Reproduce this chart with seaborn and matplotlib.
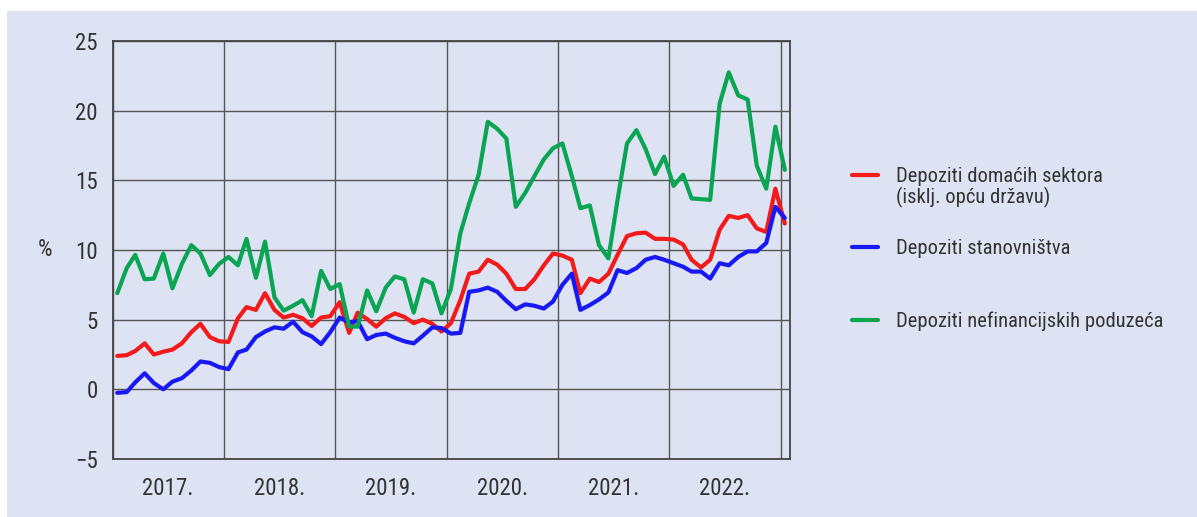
import numpy as np
import pandas as pd
import matplotlib
matplotlib.use('Agg')
import matplotlib.pyplot as plt
import matplotlib.dates as mdates
from matplotlib import font_manager as fm
from matplotlib.patches import Rectangle
import seaborn as sns

# Monthly y-o-y growth of deposits, Jan 2017 - Jan 2023 (%)
months = pd.date_range('2017-01-01', periods=73, freq='MS') + pd.Timedelta(days=14)

domaci_sektori = [
    2.4, 2.45, 2.75, 3.3, 2.5, 2.7, 2.85, 3.3, 4.1, 4.7, 3.75, 3.45,
    3.4, 5.1, 5.9, 5.7, 6.9, 5.7, 5.15, 5.35, 5.1, 4.55, 5.15, 5.25,
    6.25, 4.05, 5.5, 5.05, 4.5, 5.1, 5.45, 5.2, 4.75, 5.0, 4.7, 4.15,
    4.75, 6.4, 8.3, 8.45, 9.3, 8.95, 8.3, 7.2, 7.2, 7.9, 8.9, 9.75,
    9.6, 9.3, 6.9, 7.95, 7.7, 8.3, 9.65, 11.0, 11.2, 11.25, 10.8, 10.8,
    10.75, 10.4, 9.3, 8.75, 9.3, 11.45, 12.45, 12.3, 12.5, 11.55, 11.3, 14.4,
    11.9]

stanovnistvo = [
    -0.25, -0.2, 0.5, 1.15, 0.45, 0.0, 0.55, 0.8, 1.35, 2.0, 1.9, 1.6,
    1.45, 2.65, 2.85, 3.75, 4.15, 4.45, 4.35, 4.85, 4.1, 3.8, 3.25, 4.1,
    5.15, 4.8, 4.9, 3.6, 3.9, 4.0, 3.7, 3.45, 3.3, 3.85, 4.45, 4.4,
    4.0, 4.05, 7.0, 7.1, 7.3, 7.0, 6.35, 5.75, 6.1, 6.0, 5.8, 6.3,
    7.5, 8.3, 5.7, 6.05, 6.45, 6.95, 8.55, 8.35, 8.7, 9.3, 9.5, 9.3,
    9.05, 8.8, 8.45, 8.45, 7.95, 9.05, 8.9, 9.5, 9.9, 9.9, 10.5, 13.1,
    12.3]

poduzeca = [
    6.9, 8.7, 9.65, 7.9, 7.95, 9.75, 7.25, 9.0, 10.35, 9.75, 8.2, 9.0,
    9.5, 8.9, 10.8, 8.0, 10.6, 6.6, 5.65, 6.0, 6.4, 5.25, 8.5, 7.2,
    7.55, 4.5, 4.5, 7.1, 5.6, 7.3, 8.1, 7.9, 5.5, 7.9, 7.6, 5.45,
    7.2, 11.2, 13.35, 15.4, 19.2, 18.7, 18.0, 13.1, 14.1, 15.3, 16.5, 17.3,
    17.65, 15.3, 13.0, 13.2, 10.35, 9.4, 13.6, 17.65, 18.6, 17.25, 15.45, 16.7,
    14.6, 15.4, 13.7, 13.65, 13.6, 20.5, 22.75, 21.1, 20.8, 16.05, 14.4, 18.85,
    15.75]

labels = ['Depoziti domaćih sektora', 'Depoziti stanovništva', 'Depoziti nefinancijskih poduzeća']
colors = ['#f21a1a', '#1818f5', '#0aa552']
bg = '#dde3f2'

df = pd.DataFrame({'date': months, labels[0]: domaci_sektori,
                   labels[1]: stanovnistvo, labels[2]: poduzeca})
long_df = df.melt(id_vars='date', var_name='serija', value_name='value')

# narrow sans font if available
names = {f.name for f in fm.fontManager.ttflist}
family = next((n for n in ['Liberation Sans Narrow', 'Roboto Condensed', 'Liberation Sans']
               if n in names), 'DejaVu Sans')
sns.set_style('white')
plt.rcParams['font.family'] = [family, 'DejaVu Sans']
plt.rcParams['axes.unicode_minus'] = True

W, H = 1197, 517
fig = plt.figure(figsize=(W / 100, H / 100), dpi=100, facecolor='white')
fig.add_artist(Rectangle((7 / W, 0), 1, (H - 11) / H, transform=fig.transFigure,
                         facecolor=bg, edgecolor='none', zorder=-10))
ax = fig.add_axes([113 / W, 58 / H, 677 / W, 418 / H])
ax.set_facecolor(bg)

sns.lineplot(data=long_df, x='date', y='value', hue='serija', hue_order=labels,
             palette=colors, linewidth=3, ax=ax)

ax.set_xlim(pd.Timestamp('2017-01-01'), pd.Timestamp('2023-02-01'))
ax.set_ylim(-5, 25)
ax.set_yticks(range(-5, 26, 5))

ax.xaxis.set_major_locator(mdates.YearLocator())
ax.xaxis.set_major_formatter(plt.NullFormatter())
ax.xaxis.set_minor_locator(mdates.MonthLocator(bymonth=7))
ax.xaxis.set_minor_formatter(mdates.DateFormatter('%Y.'))

ax.grid(True, which='major', color='#555555', linewidth=1)
ax.tick_params(axis='both', which='both', length=0, labelsize=16.5, colors='#333333')
ax.tick_params(axis='x', which='minor', pad=13)
ax.tick_params(axis='y', pad=11)
for s in ax.spines.values():
    s.set_visible(True)
    s.set_color('#444444')
    s.set_linewidth(1.3)

ax.set_xlabel('')
ax.set_ylabel('%', rotation=0, fontsize=16.5, color='#333333', ha='center', va='center')
ax.yaxis.set_label_coords((45 - 113) / 677, (459 - 250) / 418)

sns.move_legend(ax, 'upper left', bbox_to_anchor=(852 / W, (H - 167) / H),
                bbox_transform=fig.transFigure, frameon=False, title=None,
                handlelength=1.25, handletextpad=0.9, labelspacing=2.6,
                borderpad=0, borderaxespad=0, fontsize=14.8)
leg = ax.get_legend()
for t in leg.get_texts():
    t.set_color('#333333')

# second line of the first legend label
fig.canvas.draw()
bb = leg.get_texts()[0].get_window_extent()
fig.text(bb.x0 / W, (bb.y0 - 1) / H, '(isklj. opću državu)', ha='left', va='top',
         fontsize=14.8, color='#333333')

fig.savefig('out.png', dpi=100, facecolor='white')
